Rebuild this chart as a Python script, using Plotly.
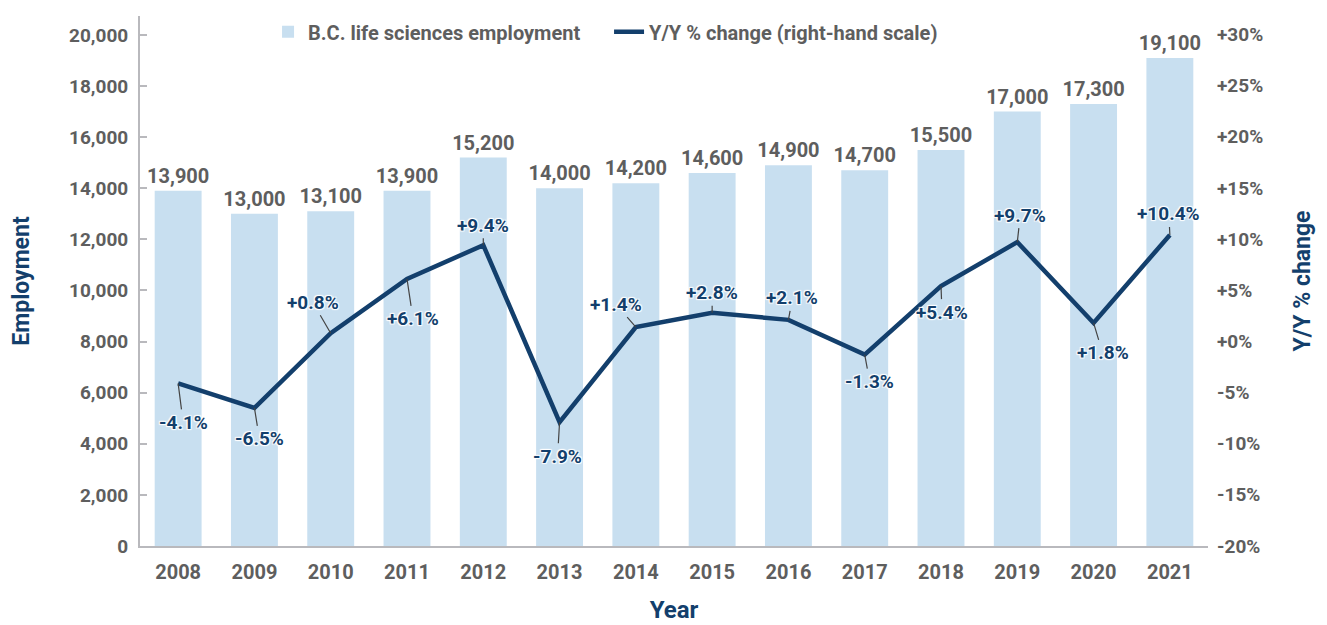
import plotly.graph_objects as go

years = ["2008", "2009", "2010", "2011", "2012", "2013", "2014",
         "2015", "2016", "2017", "2018", "2019", "2020", "2021"]
employment = [13900, 13000, 13100, 13900, 15200, 14000, 14200,
              14600, 14900, 14700, 15500, 17000, 17300, 19100]
yoy_change = [-4.1, -6.5, 0.8, 6.1, 9.4, -7.9, 1.4,
              2.8, 2.1, -1.3, 5.4, 9.7, 1.8, 10.4]
left_ticks = [0, 2000, 4000, 6000, 8000, 10000, 12000, 14000, 16000, 18000, 20000]
right_ticks = [-20, -15, -10, -5, 0, 5, 10, 15, 20, 25, 30]

FONT = "Roboto, DejaVu Sans Condensed, sans-serif"
GRAY = "#5e5e5e"
NAVY = "#133f6c"
BAR = "#c8dff0"
HALO = "1px 1px 1px #fff, -1px -1px 1px #fff, 1px -1px 1px #fff, -1px 1px 1px #fff"


def f(size, color, **kw):
    return dict(family=FONT, size=size, color=color, weight="bold", **kw)


fig = go.Figure()
fig.add_trace(go.Bar(
    x=years, y=employment, name="B.C. life sciences employment",
    marker=dict(color=BAR, line=dict(width=0)),
    text=[f"{v:,}" for v in employment], textposition="outside",
    textfont=f(20, GRAY), constraintext="none",
    cliponaxis=False,
))
fig.add_trace(go.Scatter(
    x=years, y=yoy_change, yaxis="y2", mode="lines",
    name="Y/Y % change (right-hand scale)",
    line=dict(color=NAVY, width=4.5),
))

# label offsets (pixels) relative to each point
offsets = [(5, 39), (5, 31), (-18, -31), (6, 40), (0, -20), (-2, 34), (-20, -23),
           (0, -20), (4, -22), (5, 27), (1, 26), (3, -27), (9, 30), (-1, -21)]
for i, (v, (dx, dy)) in enumerate(zip(yoy_change, offsets)):
    fig.add_annotation(
        x=i, y=v, xref="x", yref="y2",
        text=(f"+{v:.1f}%" if v >= 0 else f"{v:.1f}%"),
        showarrow=True, ax=dx, ay=dy, arrowhead=0, arrowwidth=1.2,
        arrowcolor="#444444", standoff=0,
        font=f(19, NAVY, shadow=HALO),
    )

fig.update_layout(
    width=1327, height=625,
    margin=dict(l=132, r=127, t=4, b=87),
    plot_bgcolor="white", paper_bgcolor="white",
    bargap=0.385,
    font=f(19, GRAY),
    showlegend=True,
    legend=dict(orientation="h", x=0.1199, y=1.007, xanchor="left", yanchor="top",
                font=f(20, GRAY), entrywidth=296, entrywidthmode="pixels",
                bgcolor="rgba(0,0,0,0)", itemwidth=30, tracegroupgap=0),
    xaxis=dict(
        type="category", range=[-0.5, len(years) - 0.5],
        showline=True, linecolor="#b9b9bd", linewidth=2, ticks="",
        tickfont=f(20, GRAY), ticklabelstandoff=7,
        title=dict(text="Year", font=f(24, NAVY), standoff=18),
        showgrid=False,
    ),
    yaxis=dict(
        range=[0, 20740], tickvals=left_ticks,
        ticktext=[f"{t:,}" for t in left_ticks],
        showline=True, linecolor="#b9b9bd", linewidth=2,
        ticks="inside", ticklen=7, tickcolor="#b9b9bd", tickwidth=1.5,
        tickfont=f(19, GRAY), ticklabelstandoff=6,
        title=dict(text="Employment", font=f(23, NAVY), standoff=34),
        showgrid=False, zeroline=False,
    ),
    yaxis2=dict(
        range=[-20, 31.8], tickvals=right_ticks, overlaying="y", side="right",
        ticktext=[(f"+{t}%" if t >= 0 else f"{t}%") for t in right_ticks],
        tickfont=f(19, GRAY), ticklabelstandoff=8,
        title=dict(text="Y/Y % change", font=f(23, NAVY), standoff=31),
        showgrid=False, zeroline=False, showline=False, ticks="",
    ),
)

fig.write_html("out.html")
